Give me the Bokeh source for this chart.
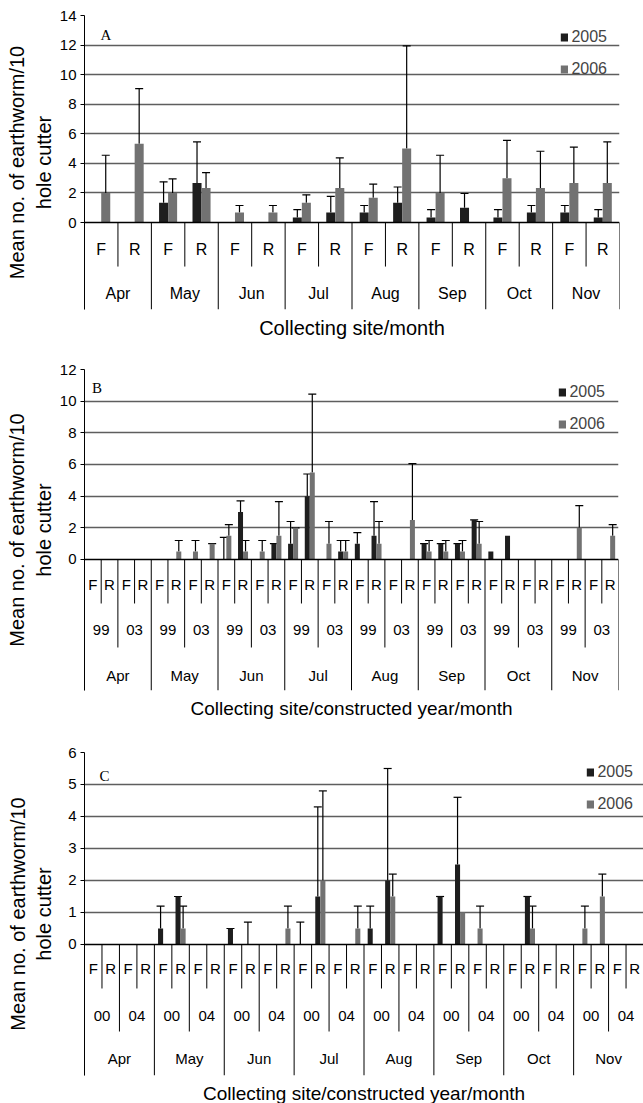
import math
import itertools
from bokeh.plotting import figure
from bokeh.models import (FactorRange, Range1d, ColumnDataSource, Whisker, TeeHead,
                          FixedTicker, Legend, LegendItem, Label, Title, Span)
from bokeh.transform import dodge
from bokeh.core.properties import value
from bokeh.layouts import column
from bokeh.embed import file_html
from bokeh.resources import INLINE

NaN = float("nan")

MONTHS = ["Apr", "May", "Jun", "Jul", "Aug", "Sep", "Oct", "Nov"]
SITES = ["F", "R"]
YEARS_B = ["99", "03"]
YEARS_C = ["00", "04"]
SERIES = ["2005", "2006"]

# ---- Panel A: site/month (16 categories) ----
A_MEAN_2005 = [0, 0, 1.33, 2.67, 0, 0, 0.33, 0.67, 0.67, 1.33, 0.33, 1.0, 0.33, 0.67, 0.67, 0.33]
A_ERR_2005 = [NaN, NaN, 1.42, 2.78, NaN, NaN, 0.54, 1.1, 0.48, 1.07, 0.54, 0.96, 0.54, 0.48, 0.48, 0.54]
A_MEAN_2006 = [2.0, 5.33, 2.0, 2.33, 0.67, 0.67, 1.33, 2.33, 1.67, 5.0, 2.0, 0, 3.0, 2.33, 2.67, 2.67]
A_ERR_2006 = [2.55, 3.72, 0.95, 1.04, 0.48, 0.48, 0.54, 2.04, 0.93, 6.95, 2.55, NaN, 2.55, 2.49, 2.43, 2.78]

# ---- Panel B: site/constructed year (99, 03)/month (32 categories) ----
B_MEAN_2005 = [0, 0, 0, 0,  0, 0, 0, 0,  0, 3.0, 0, 1.0,  1.0, 4.0, 0, 0.5,
               1.0, 1.5, 0, 0,  1.0, 1.0, 1.0, 2.5,  0.5, 1.5, 0, 0,  0, 0, 0, 0]
B_ERR_2005 = [NaN, NaN, NaN, NaN,  NaN, NaN, NaN, NaN,  1.4, 0.7, NaN, 0.0,  1.4, 1.4, NaN, 0.7,
              0.7, 2.15, NaN, NaN,  0.0, 0.0, 0.0, 0.0,  NaN, NaN, NaN, NaN,  NaN, NaN, NaN, NaN]
B_MEAN_2006 = [0, 0, 0, 0,  0, 0.5, 0.5, 1.0,  1.5, 0.5, 0.5, 1.5,  2.0, 5.5, 1.0, 0.5,
               0, 1.0, 0, 2.5,  0.5, 0.5, 0.5, 1.0,  0, 0, 0, 0,  0, 2.0, 0, 1.5]
B_ERR_2006 = [NaN, NaN, NaN, NaN,  NaN, 0.7, 0.7, 0.0,  0.7, 0.7, 0.7, 2.15,  0.0, 4.95, 1.4, 0.7,
              NaN, 1.4, NaN, 3.55,  0.7, 0.7, 0.7, 1.4,  NaN, NaN, NaN, NaN,  NaN, 1.4, NaN, 0.7]

# ---- Panel C: site/constructed year (00, 04)/month (32 categories) ----
C_MEAN_2005 = [0, 0, 0, 0,  0.5, 1.5, 0, 0,  0.5, 0, 0, 0,  0, 1.5, 0, 0,
               0.5, 2.0, 0, 0,  1.5, 2.5, 0, 0,  0, 1.5, 0, 0,  0, 0, 0, 0]
C_ERR_2005 = [NaN, NaN, NaN, NaN,  0.7, 0.0, NaN, NaN,  0.0, 0.7, NaN, NaN,  0.7, 2.8, NaN, NaN,
              0.7, 3.5, NaN, NaN,  0.0, 2.1, NaN, NaN,  NaN, 0.0, NaN, NaN,  NaN, NaN, NaN, NaN]
C_MEAN_2006 = [0, 0, 0, 0,  0, 0.5, 0, 0,  0, 0, 0, 0.5,  0, 2.0, 0, 0.5,
               0, 1.5, 0, 0,  0, 1.0, 0.5, 0,  0, 0.5, 0, 0,  0.5, 1.5, 0, 0]
C_ERR_2006 = [NaN, NaN, NaN, NaN,  NaN, 0.7, NaN, NaN,  NaN, NaN, NaN, 0.7,  NaN, 2.8, NaN, 0.7,
              NaN, 0.7, NaN, NaN,  NaN, NaN, 0.7, NaN,  NaN, 0.7, NaN, NaN,  0.7, 0.7, NaN, NaN]

A_TICKS = [0, 2, 4, 6, 8, 10, 12, 14]
B_TICKS = [0, 2, 4, 6, 8, 10, 12]
C_TICKS = [0, 1, 2, 3, 4, 5, 6]

Y_LABEL = "Mean no. of earthworm/10\nhole cutter"
SANS = "Liberation Sans"
SERIF = "Liberation Serif"
C2005 = "#1e1e1e"
C2006 = "#727272"
GRID = "#5e5e5e"
PAGE_W = 643
LEFT = 84


def make_panel(levels, m05, e05, m06, e06, letter, letter_xy, ticks, ymin,
               frame_w, frame_h, bt, bb, label_y, sep_y, bar_w, xtitle,
               t_offset, t_size, leg_margin, lab_standoff, cat_size):
    factors = [tuple(t) for t in itertools.product(*levels)]
    n = len(factors)
    nlev = len(levels)
    p = figure(x_range=FactorRange(factors=factors, factor_padding=0, group_padding=0,
                                   subgroup_padding=0, range_padding=0),
               y_range=Range1d(ymin, ticks[-1]),
               frame_width=frame_w, frame_height=frame_h,
               min_border_left=LEFT, min_border_right=PAGE_W - LEFT - frame_w,
               min_border_top=bt, min_border_bottom=bb,
               x_axis_location=None, toolbar_location=None, output_backend="svg")
    p.outline_line_color = None
    p.background_fill_color = "white"
    p.border_fill_color = "white"

    ax = p.yaxis[0]
    ax.ticker = FixedTicker(ticks=ticks)
    ax.major_label_text_font = SANS
    ax.major_label_text_font_size = "15px"
    ax.major_label_text_color = "black"
    ax.major_label_standoff = 4
    ax.major_tick_out = 4
    ax.major_tick_in = 0
    ax.minor_tick_out = 0
    ax.minor_tick_in = 0
    ax.axis_line_color = "black"
    ax.major_tick_line_color = "black"
    ax.axis_label = Y_LABEL
    ax.axis_label_text_font = SANS
    ax.axis_label_text_font_size = "20px"
    ax.axis_label_text_font_style = "normal"
    ax.axis_label_text_color = "black"
    ax.axis_label_standoff = lab_standoff

    p.xgrid.visible = False
    p.ygrid.ticker = FixedTicker(ticks=ticks[1:])
    p.ygrid.grid_line_color = GRID
    p.ygrid.grid_line_width = 1.5

    src = ColumnDataSource(dict(cat=factors, m05=m05, m06=m06))
    r05 = p.vbar(x=dodge("cat", -bar_w / 2, range=p.x_range), top="m05", width=bar_w,
                 source=src, fill_color=C2005, line_color=None)
    r06 = p.vbar(x=dodge("cat", bar_w / 2, range=p.x_range), top="m06", width=bar_w,
                 source=src, fill_color=C2006, line_color=None)

    p.add_layout(Span(location=0, dimension="width", line_color="black", line_width=1.5))

    for mean, err, off in ((m05, e05, -bar_w / 2), (m06, e06, bar_w / 2)):
        idx = [i for i in range(n) if not math.isnan(err[i])]
        wsrc = ColumnDataSource(dict(cat=[factors[i] for i in idx],
                                     lo=[mean[i] for i in idx],
                                     up=[mean[i] + err[i] for i in idx]))
        p.add_layout(Whisker(base=dodge("cat", off, range=p.x_range), lower="lo", upper="up",
                             source=wsrc, dimension="height", line_color="black", line_width=1.2,
                             upper_head=TeeHead(size=8, line_color="black", line_width=1.2),
                             lower_head=None))

    # category separators (boundaries on the synthetic axis)
    sizes = [1]
    for L in range(1, nlev):
        sizes.append(sizes[-1] * len(levels[nlev - L]))
    xs, y1s = [], []
    for k in range(n + 1):
        lev = max(L for L in range(nlev) if k % sizes[L] == 0)
        xs.append(k)
        y1s.append(sep_y[lev] if lev < nlev - 1 else ymin)
    p.segment(x0=xs, y0=[0] * len(xs), x1=xs, y1=y1s, line_color="black", line_width=1)

    # category labels, innermost row first
    for L in range(nlev):
        plen = nlev - L
        prefixes = []
        for f in factors:
            pre = f[:plen]
            if pre not in prefixes:
                prefixes.append(pre)
        xcoord = [pre if plen > 1 else pre[0] for pre in prefixes]
        lsrc = ColumnDataSource(dict(x=xcoord, t=[pre[-1] for pre in prefixes],
                                     y=[label_y[L]] * len(prefixes)))
        p.text(x="x", y="y", text="t", source=lsrc, text_align="center", text_baseline="middle",
               text_font=value(SANS), text_font_size=cat_size, text_color="black")

    p.add_layout(Label(x=letter_xy[0], y=letter_xy[1], text=letter, text_font=SERIF,
                       text_font_size="15px", text_baseline="middle", text_align="left",
                       text_color="black"))

    leg = Legend(items=[LegendItem(label=SERIES[0], renderers=[r05]),
                        LegendItem(label=SERIES[1], renderers=[r06])],
                 location="top_right", orientation="vertical", glyph_width=9, glyph_height=10,
                 label_standoff=3, label_text_font=SANS, label_text_font_size="16px",
                 label_height=20, spacing=12, padding=0, margin=leg_margin,
                 background_fill_alpha=0, border_line_color=None)
    p.add_layout(leg)

    p.add_layout(Title(text=xtitle, align="center", text_font=SANS, text_font_size=t_size,
                       text_font_style="normal", text_color="black", offset=t_offset), "below")
    return p


pA = make_panel([MONTHS, SITES], A_MEAN_2005, A_ERR_2005, A_MEAN_2006, A_ERR_2006,
                "A", (0.48, 12.65), A_TICKS, -5.884, 535, 294, 15, 41,
                [-1.83, -4.80], [-2.98, None], 0.27, "Collecting site/month",
                0, "20px", 12, 2, "16px")
pB = make_panel([MONTHS, YEARS_B, SITES], B_MEAN_2005, B_ERR_2005, B_MEAN_2006, B_ERR_2006,
                "B", (0.45, 10.8), B_TICKS, -8.274, 534, 321, 19, 30,
                [-1.579, -4.484, -7.326], [-2.779, -5.558, None], 0.3,
                "Collecting site/constructed year/month", 0, "19px", 13, 2, "15px")
pC = make_panel([MONTHS, YEARS_C, SITES], C_MEAN_2005, C_ERR_2005, C_MEAN_2006, C_ERR_2006,
                "C", (0.86, 5.25), C_TICKS, -4.094, 559, 323, 29, 31,
                [-0.75, -2.219, -3.5625], [-1.375, -2.719, None], 0.29,
                "Collecting site/constructed year/month", 14, "19px", 10, 10, "15px")

layout = column(pA, pB, pC, spacing=0)
open("out.html", "w").write(file_html(layout, INLINE))
